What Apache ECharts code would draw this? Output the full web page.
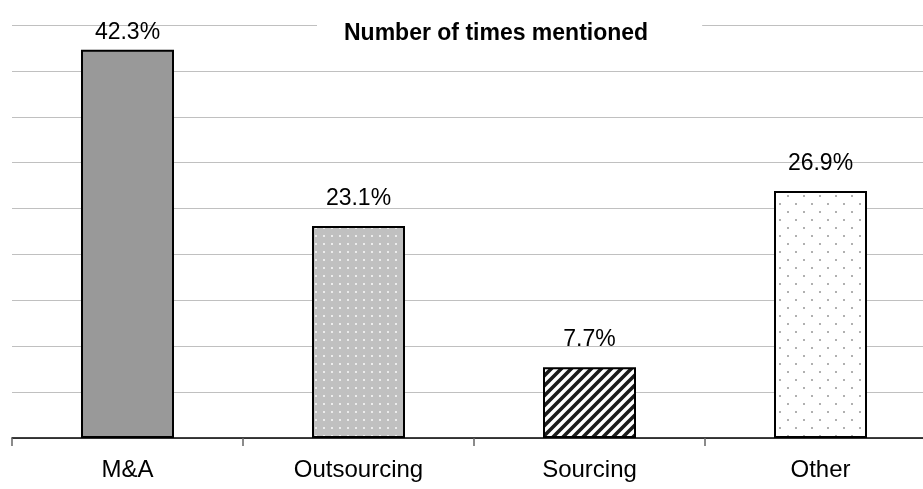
<!DOCTYPE html>
<html>
<head>
<meta charset="utf-8">
<script src="https://cdn.jsdelivr.net/npm/echarts@6/dist/echarts.min.js"></script>
<style>
  html, body { margin: 0; padding: 0; background: #fff; }
  #chart { width: 923px; height: 489px; }
</style>
</head>
<body>
<div id="chart"></div>
<script>
// Share of mentions per topic (%)
const categories = ['M&A', 'Outsourcing', 'Sourcing', 'Other'];
const shares = [42.3, 23.1, 7.7, 26.9];
const chartTitle = 'Number of times mentioned';

const FONT = "'Liberation Sans', Arial, sans-serif";

// Tile builders for the hatched / dotted bar fills
function tile(w, h, draw) {
  const c = document.createElement('canvas');
  c.width = w; c.height = h;
  draw(c.getContext('2d'), w, h);
  return { image: c, repeat: 'repeat' };
}

const solidGrey = '#999999';

const greyDots = tile(8, 8, (g, w, h) => {
  g.fillStyle = '#c0c0c0';
  g.fillRect(0, 0, w, h);
  g.fillStyle = '#ececec';
  g.fillRect(3, 3, 2, 2);
});

const diagonal = tile(10, 10, (g, w, h) => {
  g.fillStyle = '#ffffff';
  g.fillRect(0, 0, w, h);
  g.strokeStyle = '#1a1a1a';
  g.lineWidth = 3.6;
  g.beginPath();
  for (let k = -1; k <= 1; k++) {
    g.moveTo(k * w - 2, h + 2);
    g.lineTo(k * w + w + 2, -2);
  }
  g.stroke();
});

const sparseDots = tile(16, 16, (g, w, h) => {
  g.fillStyle = '#ffffff';
  g.fillRect(0, 0, w, h);
  g.fillStyle = '#b0b0b0';
  g.fillRect(3, 3, 2, 2);
  g.fillRect(11, 11, 2, 2);
});

const fills = [solidGrey, greyDots, diagonal, sparseDots];
// The tallest bar keeps its value label inside the plot area
const labelGap = [6, 16, 16, 16];

const chart = echarts.init(document.getElementById('chart'), null, { renderer: 'canvas' });

chart.setOption({
  animation: false,
  backgroundColor: '#ffffff',
  title: {
    text: chartTitle,
    left: 317,
    top: 19,
    padding: [3, 54, 3, 27],
    backgroundColor: '#ffffff',
    textStyle: { fontFamily: FONT, fontSize: 23, fontWeight: 'bold', color: '#000' }
  },
  grid: {
    left: 12, top: 25, width: 924, height: 413,
    outerBoundsMode: 'none', containLabel: false
  },
  xAxis: {
    type: 'category',
    data: categories,
    boundaryGap: true,
    axisLine: { show: true, lineStyle: { color: '#000', width: 1.5 } },
    axisTick: { show: true, length: 8, lineStyle: { color: '#666', width: 1.5 } },
    axisLabel: { fontFamily: FONT, fontSize: 24, color: '#000', margin: 20 },
    splitLine: { show: false }
  },
  yAxis: {
    type: 'value',
    min: 0, max: 45, interval: 5,
    axisLabel: { show: false },
    axisLine: { show: false },
    axisTick: { show: false },
    splitLine: { show: true, lineStyle: { color: '#c0c0c0', width: 1 } }
  },
  series: [{
    type: 'bar',
    barWidth: 93,
    data: shares.map((v, i) => ({
      value: v,
      itemStyle: { color: fills[i] },
      label: { distance: labelGap[i] }
    })),
    itemStyle: { borderColor: '#000', borderWidth: 2 },
    label: {
      show: true,
      position: 'top',
      fontFamily: FONT,
      fontSize: 23,
      color: '#000',
      formatter: p => p.value.toFixed(1) + '%'
    }
  }]
});
</script>
</body>
</html>
